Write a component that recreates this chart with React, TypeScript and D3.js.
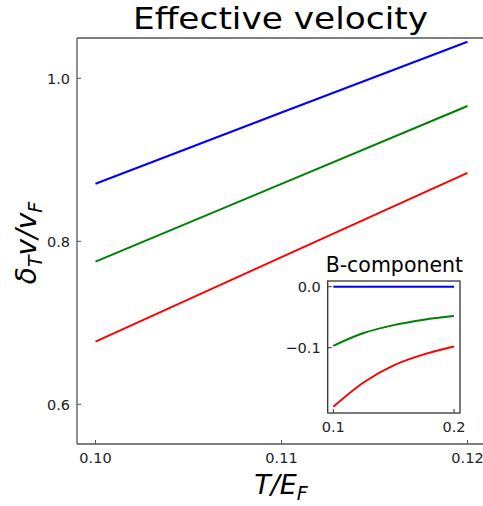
import React from "react";
import * as d3 from "d3";

const temps = [0.1, 0.11, 0.12];
const blueMain = [0.8706, 0.958, 1.0448];
const greenMain = [0.775, 0.8705, 0.966];
const redMain = [0.677, 0.7805, 0.884];

const insetT = [0.1, 0.125, 0.15, 0.175, 0.2];
const blueInset = [0, 0, 0, 0, 0];
const greenInset = [-0.097, -0.076, -0.063, -0.054, -0.048];
const redInset = [-0.197, -0.157, -0.129, -0.111, -0.098];

const xTicks = [0.1, 0.11, 0.12];
const xTickLabels = ["0.10", "0.11", "0.12"];
const yTicks = [0.6, 0.8, 1.0];
const yTickLabels = ["0.6", "0.8", "1.0"];
const insetXTicks = [0.1, 0.2];
const insetXTickLabels = ["0.1", "0.2"];
const insetYTicks = [0, -0.1];
const insetYTickLabels = ["0.0", "\u22120.1"];

const colors = ["#0000ff", "#008000", "#ff0000"];
const FONT = "DejaVu Sans, sans-serif";

export default function App() {
  const W = 483, H = 506;
  const L = 77, R = 483, T = 38, B = 444;
  const x = d3.scaleLinear().domain([0.1, 0.12]).range([95.5, 467.5]);
  const y = d3.scaleLinear().domain([0.6, 1.0]).range([404.3, 78.3]);

  const iL = 327.7, iR = 460, iT = 281, iB = 413;
  const ix = d3.scaleLinear().domain([0.1, 0.2]).range([333.3, 454]);
  const iy = d3.scaleLinear().domain([-0.1, 0]).range([347.7, 286.7]);

  const line = d3.line<[number, number]>().x((d) => x(d[0])).y((d) => y(d[1]));
  const iline = d3
    .line<[number, number]>()
    .x((d) => ix(d[0]))
    .y((d) => iy(d[1]))
    .curve(d3.curveCatmullRom.alpha(0.5));

  const mainSeries = [blueMain, greenMain, redMain];
  const insetSeries = [blueInset, greenInset, redInset];
  const axisCol = "#555";
  const TF = 14.5;

  return (
    <svg width={W} height={H} style={{ position: "absolute", left: 0, top: 0, background: "#fff" }}>
      <rect width={W} height={H} fill="#fff" />
      <text
        x={133}
        y={29}
        fontFamily={FONT}
        fontSize={30}
        textLength={295}
        lengthAdjust="spacingAndGlyphs"
      >
        Effective velocity
      </text>
      {/* main frame */}
      <line x1={L} x2={L} y1={T} y2={B} stroke={axisCol} strokeWidth={1.3} />
      <line x1={L} x2={R} y1={B} y2={B} stroke={axisCol} strokeWidth={1.3} />
      <line x1={L} x2={R} y1={T} y2={T} stroke={axisCol} strokeWidth={1.3} />
      {xTicks.map((t, i) => (
        <g key={"xt" + i}>
          <line x1={x(t)} x2={x(t)} y1={B} y2={B - 4} stroke={axisCol} strokeWidth={1} />
          <text x={x(t)} y={B + 19} textAnchor="middle" fontFamily={FONT} fontSize={TF} fill="#222">
            {xTickLabels[i]}
          </text>
        </g>
      ))}
      {yTicks.map((t, i) => (
        <g key={"yt" + i}>
          <line x1={L} x2={L + 4} y1={y(t)} y2={y(t)} stroke={axisCol} strokeWidth={1} />
          <text x={L - 7} y={y(t) + 5.5} textAnchor="end" fontFamily={FONT} fontSize={TF} fill="#222">
            {yTickLabels[i]}
          </text>
        </g>
      ))}
      {mainSeries.map((s, k) => (
        <path
          key={"m" + k}
          d={line(temps.map((t, i) => [t, s[i]] as [number, number])) || ""}
          fill="none"
          stroke={colors[k]}
          strokeWidth={2}
        />
      ))}
      {/* axis labels */}
      <text x={281} y={494} textAnchor="middle" fontFamily={FONT} fontSize={27} fontStyle="italic">
        T/E
        <tspan fontSize={19} dy={6}>F</tspan>
      </text>
      <text
        transform={`translate(36,243) rotate(-90)`}
        textAnchor="middle"
        fontFamily={FONT}
        fontSize={28}
        fontStyle="italic"
      >
        δ<tspan fontSize={19} dy={6}>T</tspan>
        <tspan dy={-6}>v/v</tspan>
        <tspan fontSize={19} dy={6}>F</tspan>
      </text>

      {/* inset */}
      <rect x={iL} y={iT} width={iR - iL} height={iB - iT} fill="#fff" stroke="#333" strokeWidth={1.3} />
      <text x={(iL + iR) / 2 + 0.5} y={272} textAnchor="middle" fontFamily={FONT} fontSize={20.5}>
        B-component
      </text>
      {insetXTicks.map((t, i) => (
        <g key={"ixt" + i}>
          <line x1={ix(t)} x2={ix(t)} y1={iB} y2={iB - 4} stroke="#333" strokeWidth={1} />
          <text x={ix(t)} y={iB + 19} textAnchor="middle" fontFamily={FONT} fontSize={TF} fill="#222">
            {insetXTickLabels[i]}
          </text>
        </g>
      ))}
      {insetYTicks.map((t, i) => (
        <g key={"iyt" + i}>
          <line x1={iL} x2={iL + 4} y1={iy(t)} y2={iy(t)} stroke="#333" strokeWidth={1} />
          <text x={iL - 7} y={iy(t) + 5.5} textAnchor="end" fontFamily={FONT} fontSize={TF} fill="#222">
            {insetYTickLabels[i]}
          </text>
        </g>
      ))}
      <defs>
        <clipPath id="insetClip">
          <rect x={iL} y={iT} width={iR - iL} height={iB - iT} />
        </clipPath>
      </defs>
      <g clipPath="url(#insetClip)">
        {insetSeries.map((s, k) => (
          <path
            key={"i" + k}
            d={iline(insetT.map((t, i) => [t, s[i]] as [number, number])) || ""}
            fill="none"
            stroke={colors[k]}
            strokeWidth={2}
          />
        ))}
      </g>
    </svg>
  );
}
